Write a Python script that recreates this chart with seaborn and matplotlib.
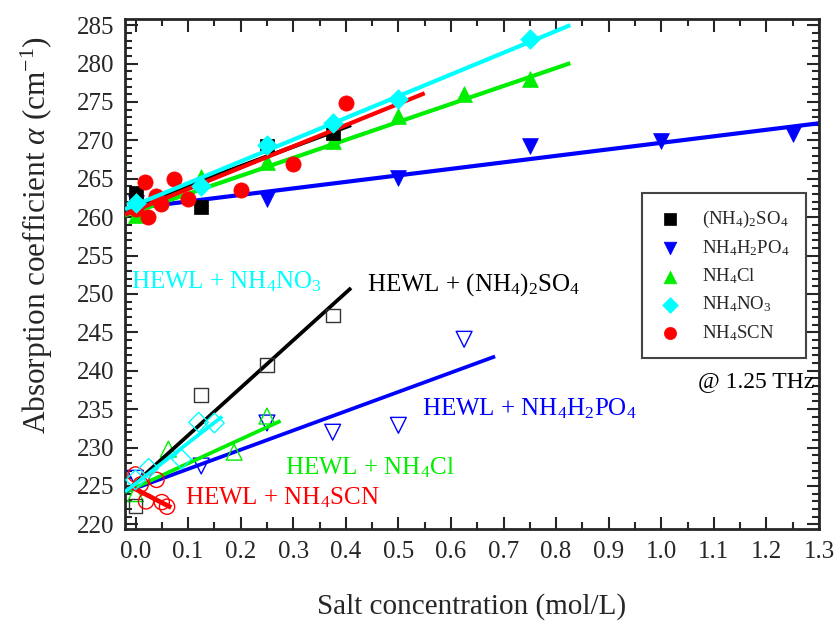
import numpy as np
import pandas as pd
import matplotlib
matplotlib.use("Agg")
import matplotlib.pyplot as plt
from matplotlib.ticker import MultipleLocator, FormatStrFormatter
import seaborn as sns

# ---- measured absorption coefficients at 1.25 THz ----
# salt solutions (filled markers)
x_so4 = [0.0, 0.125, 0.25, 0.375]
y_so4 = [263.1, 261.3, 269.3, 271.0]
x_po4 = [0.0, 0.25, 0.5, 0.75, 1.0, 1.25]
y_po4 = [261.8, 262.3, 265.1, 269.3, 269.9, 270.8]
x_cl = [0.0, 0.125, 0.25, 0.375, 0.5, 0.625, 0.75]
y_cl = [260.3, 265.2, 267.2, 269.9, 273.2, 276.0, 278.0]
x_no3 = [0.0, 0.125, 0.25, 0.375, 0.5, 0.75]
y_no3 = [261.9, 264.0, 269.4, 272.3, 275.4, 283.2]
x_scn = [0.0, 0.018, 0.023, 0.039, 0.049, 0.074, 0.1, 0.2, 0.3, 0.4]
y_scn = [261.0, 264.6, 260.0, 262.7, 261.7, 265.0, 262.4, 263.6, 266.9, 274.9]

# HEWL + salt solutions (open markers)
xh_so4 = [0.0, 0.125, 0.25, 0.375]
yh_so4 = [222.4, 236.8, 240.8, 247.2]
xh_po4 = [0.0, 0.125, 0.25, 0.375, 0.5, 0.625]
yh_po4 = [226.0, 227.6, 233.2, 232.0, 232.9, 244.1]
xh_cl = [0.0, 0.0625, 0.1875, 0.25]
yh_cl = [224.0, 229.8, 229.4, 234.1]
xh_no3 = [0.0, 0.025, 0.0875, 0.12, 0.15]
yh_no3 = [225.8, 227.3, 228.5, 233.3, 233.2]
xh_scn = [0.0, 0.01, 0.02, 0.04, 0.05, 0.06]
yh_scn = [226.5, 225.2, 223.0, 225.8, 222.9, 222.3]

# linear fits: (intercept, slope, x_start, x_end)
fit_so4 = (261.5, 25.6, -0.02, 0.41)
fit_po4 = (261.2, 8.48, -0.02, 1.30)
fit_cl = (260.7, 23.4, -0.02, 0.827)
fit_no3 = (261.6, 28.3, -0.02, 0.827)
fit_scn = (260.9, 27.7, -0.02, 0.55)
fith_so4 = (225.4, 61.9, -0.02, 0.41)
fith_po4 = (224.7, 25.1, -0.02, 0.684)
fith_cl = (224.8, 31.4, -0.02, 0.276)
fith_no3 = (225.3, 53.0, -0.02, 0.165)
fith_scn = (224.6, -35.4, -0.01, 0.068)

labels = ["(NH$_{\\mathrm{4}}$)$_{\\mathrm{2}}$SO$_{\\mathrm{4}}$",
          "NH$_{\\mathrm{4}}$H$_{\\mathrm{2}}$PO$_{\\mathrm{4}}$",
          "NH$_{\\mathrm{4}}$Cl",
          "NH$_{\\mathrm{4}}$NO$_{\\mathrm{3}}$",
          "NH$_{\\mathrm{4}}$SCN"]
colors = ["#000000", "#0000ff", "#00ee00", "#00ffff", "#ff0000"]
markers = ["s", "v", "^", "D", "o"]
xticks = [0.0, 0.1, 0.2, 0.3, 0.4, 0.5, 0.6, 0.7, 0.8, 0.9, 1.0, 1.1, 1.2, 1.3]
yticks = [220, 225, 230, 235, 240, 245, 250, 255, 260, 265, 270, 275, 280, 285]

sns.set_style("ticks")
plt.rcParams["font.family"] = ["Liberation Serif", "DejaVu Serif"]
plt.rcParams["mathtext.fontset"] = "custom"
plt.rcParams["mathtext.rm"] = "Liberation Serif"
plt.rcParams["mathtext.it"] = "Liberation Serif:italic"
plt.rcParams["mathtext.bf"] = "Liberation Serif:bold"

fig = plt.figure(figsize=(8.4, 6.23), dpi=100)
ax = fig.add_axes([0.1488, 0.1509, 0.8262, 0.8186])

salt = [(x_so4, y_so4), (x_po4, y_po4), (x_cl, y_cl), (x_no3, y_no3), (x_scn, y_scn)]
hewl = [(xh_so4, yh_so4), (xh_po4, yh_po4), (xh_cl, yh_cl), (xh_no3, yh_no3), (xh_scn, yh_scn)]
fits = [fit_so4, fit_po4, fit_cl, fit_no3, fit_scn]
fits_h = [fith_so4, fith_po4, fith_cl, fith_no3, fith_scn]
zl = [4, 2, 3, 6, 5]


def fit_frame(fit):
    b, m, x0, x1 = fit
    xs = np.array([x0, x1])
    return pd.DataFrame({"x": xs, "y": b + m * xs})


# fitted lines
for i in range(5):
    sns.lineplot(data=fit_frame(fits[i]), x="x", y="y", ax=ax, color=colors[i],
                 lw=3.0, zorder=zl[i], solid_capstyle="butt")
    lw_h = 2.7 if i != 4 else 3.4
    sns.lineplot(data=fit_frame(fits_h[i]), x="x", y="y", ax=ax, color=colors[i],
                 lw=lw_h, zorder=zl[i], solid_capstyle="butt")

# data points
sizes = [100, 130, 130, 100, 120]
for i in range(5):
    xs, ys = salt[i]
    sns.scatterplot(x=xs, y=ys, ax=ax, marker=markers[i], s=sizes[i],
                    color=colors[i], edgecolor=colors[i], linewidth=0.5,
                    label=labels[i], zorder=zl[i] + 0.5)
    xs, ys = hewl[i]
    ec = "#333333" if i == 0 else colors[i]
    sns.scatterplot(x=xs, y=ys, ax=ax, marker=markers[i], s=sizes[i],
                    color="none", edgecolor=ec, linewidth=1.0,
                    zorder=zl[i] + 0.5)

# annotations
tfs = 18
ax.text(-0.008, 250.7, "HEWL + NH$_{\\mathrm{4}}$NO$_{\\mathrm{3}}$", color=colors[3], fontsize=tfs)
ax.text(0.44, 250.4, "HEWL + (NH$_{\\mathrm{4}}$)$_{\\mathrm{2}}$SO$_{\\mathrm{4}}$", color=colors[0], fontsize=tfs)
ax.text(0.544, 234.2, "HEWL + NH$_{\\mathrm{4}}$H$_{\\mathrm{2}}$PO$_{\\mathrm{4}}$", color=colors[1], fontsize=tfs)
ax.text(0.284, 226.5, "HEWL + NH$_{\\mathrm{4}}$Cl", color=colors[2], fontsize=tfs)
ax.text(0.095, 222.6, "HEWL + NH$_{\\mathrm{4}}$SCN", color=colors[4], fontsize=tfs)
ax.text(1.07, 237.9, "@ 1.25 THz", color="black", fontsize=17)

# axes
ax.set_xlim(-0.02, 1.30)
ax.set_ylim(219.4, 285.8)
ax.set_xticks(xticks)
ax.set_yticks(yticks)
ax.xaxis.set_major_formatter(FormatStrFormatter("%.1f"))
ax.xaxis.set_minor_locator(MultipleLocator(0.05))
ax.yaxis.set_minor_locator(MultipleLocator(1))
ax.tick_params(which="both", direction="in", top=True, right=True, width=1.5)
ax.tick_params(which="major", length=9, labelsize=18)
ax.tick_params(which="minor", length=5)
ax.tick_params(axis="x", pad=9)
ax.tick_params(axis="y", pad=8)
for sp in ax.spines.values():
    sp.set_linewidth(2.0)
ax.set_xlabel("Salt concentration (mol/L)", fontsize=21, labelpad=21)
ax.set_ylabel("Absorption coefficient $\\alpha$ (cm$^{\\mathrm{-1}}$)", fontsize=22.5,
              va="center")
ax.yaxis.set_label_coords(-0.127, 0.576)

leg = ax.legend(loc="upper left", bbox_to_anchor=(0.745, 0.659), fontsize=13.5,
                frameon=True, fancybox=False, edgecolor="#444444", framealpha=1,
                borderpad=0.85, labelspacing=0.45, handletextpad=1.05,
                handlelength=1.3, borderaxespad=0, markerscale=0.8)
leg.get_frame().set_linewidth(1.5)

fig.savefig("out.png", dpi=100)
